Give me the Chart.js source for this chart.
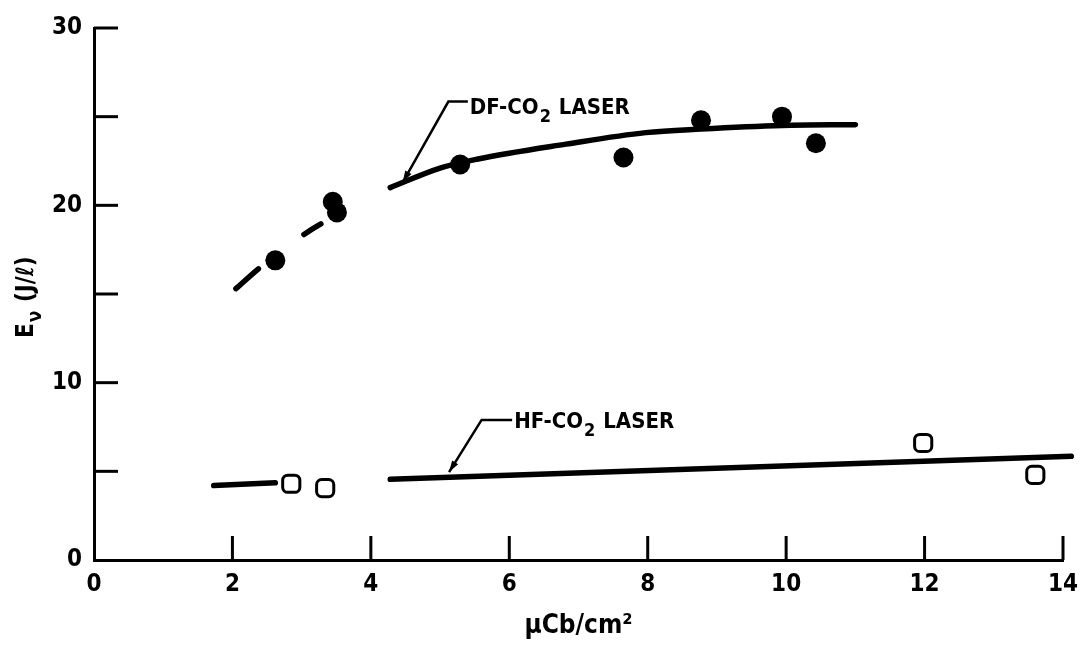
<!DOCTYPE html>
<html><head><meta charset="utf-8">
<script src="https://cdn.jsdelivr.net/npm/chart.js@4"></script>
<style>html,body{margin:0;padding:0;background:#fff}#wrap{width:1080px;height:650px;position:relative}</style>
</head><body><div id="wrap"><canvas id="c" width="1080" height="650"></canvas></div>
<script>
// ---- data ----
const dfX = [2.62, 3.45, 3.51, 5.29, 7.65, 8.77, 9.94, 10.43];
const dfY = [16.9, 20.2, 19.6, 22.3, 22.7, 24.8, 25.0, 23.5];
const hfX = [2.85, 3.34, 11.98, 13.6];
const hfY = [4.3, 4.05, 6.6, 4.8];
const dfFitDashX = [2.05, 2.4, 3.05, 3.3, 4.28];
const dfFitDashY = [15.3, 16.5, 18.4, 19.0, 21.0];
const dfFitSolidX = [4.28, 5.0, 5.53, 6.82, 7.97, 8.77, 9.94, 11.0];
const dfFitSolidY = [21.0, 22.1, 22.6, 23.45, 24.1, 24.3, 24.5, 24.55];
const hfFitLeftX = [1.73, 2.62];
const hfFitLeftY = [4.2, 4.35];
const hfFitRightX = [4.28, 14.12];
const hfFitRightY = [4.55, 5.85];
const xTickValues = [0, 2, 4, 6, 8, 10, 12, 14];
const yTickValues = [0, 5, 10, 15, 20, 25, 30];
const yLabelled = [0, 10, 20, 30];
const xTitle = 'μCb/cm²';
const yTitleParts = ['E', 'ν', ' (J/ℓ)'];
// annotation label, leader-line kink, arrow tip (data units)
const dfLabel = {parts: ['DF-CO', '2', ' LASER'], at: [5.43, 25.6], kink: [5.12, 25.85], tip: [4.46, 21.3]};
const hfLabel = {parts: ['HF-CO', '2', ' LASER'], at: [6.07, 7.9], kink: [5.6, 7.9], tip: [5.13, 4.96]};

const FONT = '"Liberation Sans Narrow", "DejaVu Sans Condensed", "Liberation Sans", sans-serif';
const pts = (xs, ys) => xs.map((x, i) => ({x, y: ys[i]}));

function drawSubText(ctx, parts, x, y, size) {
  ctx.textBaseline = 'alphabetic';
  ctx.textAlign = 'left';
  ctx.font = 'bold ' + size + 'px ' + FONT;
  ctx.fillText(parts[0], x, y);
  x += ctx.measureText(parts[0]).width + 1;
  ctx.font = 'bold ' + Math.round(size * 0.8) + 'px ' + FONT;
  ctx.fillText(parts[1], x, y + size * 0.35);
  x += ctx.measureText(parts[1]).width + 1;
  ctx.font = 'bold ' + size + 'px ' + FONT;
  ctx.fillText(parts[2], x, y);
}

const extras = {
  id: 'extras',
  afterDatasetsDraw(chart) {
    const {ctx, scales: {x, y}} = chart;
    ctx.save();
    ctx.strokeStyle = '#000';
    ctx.fillStyle = '#000';
    ctx.lineWidth = 3;
    // inward tick marks
    const x0 = x.getPixelForValue(0), y0 = y.getPixelForValue(0);
    yTickValues.filter(v => v > 0).forEach(v => {
      const py = y.getPixelForValue(v);
      ctx.beginPath(); ctx.moveTo(x0, py); ctx.lineTo(x0 + 24, py); ctx.stroke();
    });
    xTickValues.filter(v => v > 0).forEach(v => {
      const px = x.getPixelForValue(v);
      ctx.beginPath(); ctx.moveTo(px, y0); ctx.lineTo(px, y0 - 24); ctx.stroke();
    });
    // annotations
    [dfLabel, hfLabel].forEach(a => {
      const kx = x.getPixelForValue(a.kink[0]), ky = y.getPixelForValue(a.kink[1]);
      const tx = x.getPixelForValue(a.tip[0]), ty = y.getPixelForValue(a.tip[1]);
      const lx = x.getPixelForValue(a.at[0]);
      ctx.lineWidth = 2.5;
      ctx.beginPath(); ctx.moveTo(lx - 2, ky); ctx.lineTo(kx, ky); ctx.lineTo(tx, ty); ctx.stroke();
      const ang = Math.atan2(ty - ky, tx - kx);
      ctx.beginPath();
      ctx.moveTo(tx, ty);
      ctx.lineTo(tx - 12 * Math.cos(ang - 0.3), ty - 12 * Math.sin(ang - 0.3));
      ctx.lineTo(tx - 12 * Math.cos(ang + 0.3), ty - 12 * Math.sin(ang + 0.3));
      ctx.closePath(); ctx.fill();
      drawSubText(ctx, a.parts, lx, y.getPixelForValue(a.at[1]) + 8, 22);
    });
    // y axis title (rotated, with subscript)
    ctx.translate(33, 338);
    ctx.rotate(-Math.PI / 2);
    drawSubText(ctx, yTitleParts, 0, 0, 24);
    ctx.restore();
  }
};

new Chart(document.getElementById('c'), {
  type: 'scatter',
  data: {
    datasets: [
      {data: pts(dfX, dfY), pointRadius: 10, pointHoverRadius: 10, backgroundColor: '#000', borderColor: '#000', borderWidth: 0, order: 0},
      {data: pts(hfX, hfY), pointStyle: 'rectRounded', pointRadius: 10, pointHoverRadius: 10, backgroundColor: '#fff', borderColor: '#000', borderWidth: 3, order: 0},
      {data: pts(dfFitDashX, dfFitDashY), showLine: true, pointRadius: 0, borderColor: '#000', borderWidth: 5.5, borderDash: [30, 57, 20, 300], borderCapStyle: 'round', cubicInterpolationMode: 'monotone', order: 1},
      {data: pts(dfFitSolidX, dfFitSolidY), showLine: true, pointRadius: 0, borderColor: '#000', borderWidth: 5.5, borderCapStyle: 'round', cubicInterpolationMode: 'monotone', order: 1},
      {data: pts(hfFitLeftX, hfFitLeftY), showLine: true, pointRadius: 0, borderColor: '#000', borderWidth: 5.5, borderCapStyle: 'round', order: 1},
      {data: pts(hfFitRightX, hfFitRightY), showLine: true, pointRadius: 0, borderColor: '#000', borderWidth: 5.5, borderCapStyle: 'round', clip: false, order: 1}
    ]
  },
  options: {
    responsive: false,
    animation: false,
    devicePixelRatio: 1,
    layout: {padding: {top: 28, right: 17, left: 0, bottom: 0}},
    plugins: {legend: {display: false}, tooltip: {enabled: false}},
    scales: {
      x: {
        type: 'linear', min: 0, max: 14,
        afterBuildTicks: s => { s.ticks = xTickValues.map(v => ({value: v})); },
        afterFit: s => { s.height = 90; s.paddingLeft = 0; s.paddingRight = 0; },
        grid: {display: true, drawOnChartArea: false, drawTicks: false},
        border: {display: true, color: '#000', width: 3},
        ticks: {color: '#000', padding: 10, maxRotation: 0, autoSkip: false, font: {family: FONT, size: 24, weight: 'bold'}},
        title: {display: true, text: xTitle, color: '#000', padding: {top: 0, bottom: 8}, font: {family: FONT, size: 26, weight: 'bold'}}
      },
      y: {
        type: 'linear', min: 0, max: 30,
        afterBuildTicks: s => { s.ticks = yTickValues.map(v => ({value: v})); },
        afterFit: s => { s.width = 94; s.paddingTop = 0; s.paddingBottom = 0; },
        grid: {display: true, drawOnChartArea: false, drawTicks: false},
        border: {display: true, color: '#000', width: 3},
        ticks: {color: '#000', padding: 12, autoSkip: false, font: {family: FONT, size: 24, weight: 'bold'},
          callback: v => yLabelled.includes(v) ? String(v) : ''}
      }
    }
  },
  plugins: [extras]
});
</script>
</body></html>
